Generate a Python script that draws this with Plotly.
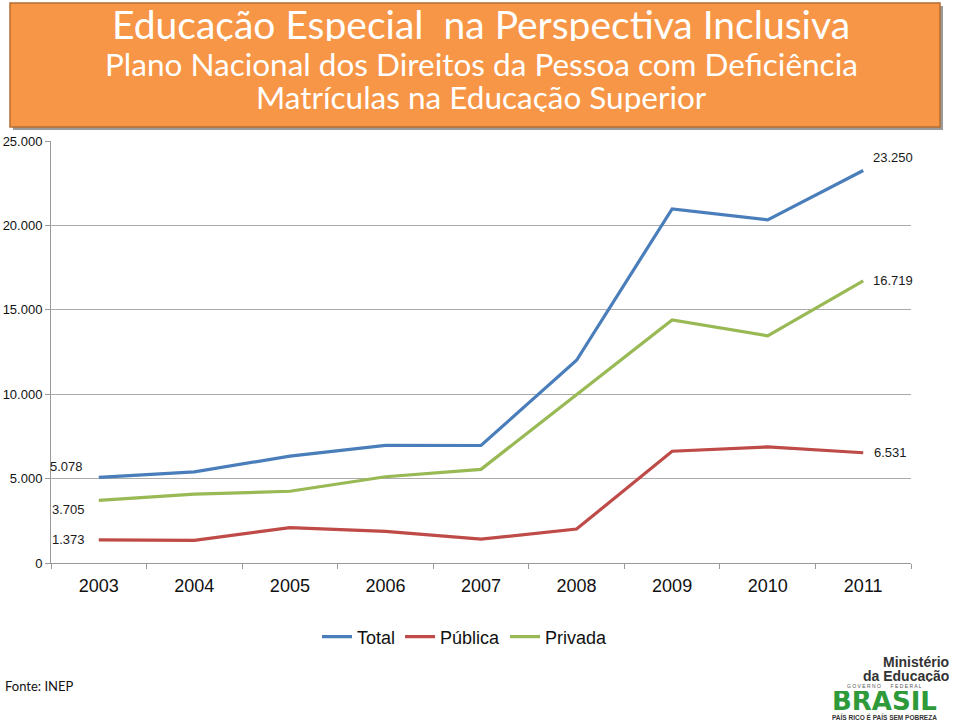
import plotly.graph_objects as go

years = ["2003", "2004", "2005", "2006", "2007", "2008", "2009", "2010", "2011"]
total = [5078, 5400, 6330, 6970, 6960, 12010, 20980, 20330, 23250]
publica = [1373, 1340, 2100, 1870, 1410, 2010, 6620, 6880, 6531]
privada = [3705, 4080, 4250, 5110, 5550, 10000, 14400, 13460, 16719]

series_names = ["Total", "Pública", "Privada"]
series_colors = ["#4A7EBB", "#BE4B48", "#98B954"]
y_ticks = [0, 5000, 10000, 15000, 20000, 25000]

W, H = 960, 723
L, R, T, B = 51, 911, 141, 563


def px(x):
    return (x - L) / (R - L)


def py(y):
    return (B - y) / (B - T)


def fmt(v):
    return f"{v:,}".replace(",", ".")


fig = go.Figure()
for name, vals, col in zip(series_names, [total, publica, privada], series_colors):
    fig.add_trace(go.Scatter(x=years, y=vals, mode="lines", name=name,
                             line=dict(color=col, width=3.2)))

lab_font = dict(family="Liberation Sans, Arial", size=13, color="#1a1a1a")
annotations = []
first_i, last_i = 0, len(years) - 1
first_labels = [(total[0], -32, 11), (privada[0], -30, -9), (publica[0], -30, 0)]
for v, dx, dy in first_labels:
    annotations.append(dict(xref="x", yref="y", x=first_i, y=v, text=fmt(v), showarrow=False,
                            xshift=dx, yshift=dy, font=lab_font))
last_labels = [(total[-1], 30, 13), (privada[-1], 30, 0), (publica[-1], 27, 0)]
for v, dx, dy in last_labels:
    annotations.append(dict(xref="x", yref="y", x=last_i, y=v, text=fmt(v), showarrow=False,
                            xshift=dx, yshift=dy, font=lab_font))

title_font = "Lato, Noto Sans, sans-serif"
annotations += [
    dict(xref="paper", yref="paper", x=px(481), y=py(24), text="Educação Especial  na Perspectiva Inclusiva",
         showarrow=False, font=dict(family=title_font, size=39, color="white"), xanchor="center",
         yanchor="middle", height=34),
    dict(xref="paper", yref="paper", x=px(481), y=py(64), text="Plano Nacional dos Direitos da Pessoa com Deficiência",
         showarrow=False, font=dict(family=title_font, size=31.5, color="white"), xanchor="center",
         yanchor="middle", height=30),
    dict(xref="paper", yref="paper", x=px(481), y=py(97), text="Matrículas na Educação Superior",
         showarrow=False, font=dict(family=title_font, size=31.5, color="white"), xanchor="center",
         yanchor="middle", height=30),
    dict(xref="paper", yref="paper", x=px(3), y=py(686), text="Fonte: INEP", showarrow=False,
         font=dict(family=title_font, size=13, color="#111111"), xanchor="left", yanchor="middle"),
    # logo
    dict(xref="paper", yref="paper", x=px(951), y=py(661), text="<b>Ministério</b>", showarrow=False,
         font=dict(family="Liberation Sans, Arial", size=14, color="#333333"), xanchor="right",
         yanchor="middle", height=13),
    dict(xref="paper", yref="paper", x=px(951), y=py(675), text="<b>da Educação</b>", showarrow=False,
         font=dict(family="Liberation Sans, Arial", size=14, color="#333333"), xanchor="right",
         yanchor="middle", height=13),
    dict(xref="paper", yref="paper", x=px(884), y=py(686), text="G O V E R N O       F E D E R A L", showarrow=False,
         font=dict(family="Liberation Sans, Arial", size=5, color="#555555"), xanchor="center",
         yanchor="middle", height=6),
    dict(xref="paper", yref="paper", x=px(884), y=py(701), text="<b>BRASIL</b>", showarrow=False,
         font=dict(family="DejaVu Sans, Arial", size=26, color="#2E9A3A"), xanchor="center",
         yanchor="middle", height=20),
    dict(xref="paper", yref="paper", x=px(884), y=py(716), text="<b>PAÍS RICO É PAÍS SEM POBREZA</b>", showarrow=False,
         font=dict(family="Liberation Sans, Arial", size=6.5, color="#333333"), xanchor="center",
         yanchor="middle", height=7),
]

shapes = [
    dict(type="rect", xref="paper", yref="paper", x0=px(13), x1=px(943), y0=py(6), y1=py(130),
         fillcolor="#9a9a9a", line=dict(width=0), layer="below"),
    dict(type="rect", xref="paper", yref="paper", x0=px(10), x1=px(940), y0=py(3), y1=py(127),
         fillcolor="#F79646", line=dict(color="#B66D31", width=1.5), layer="below"),
]

fig.update_layout(
    width=W, height=H,
    margin=dict(l=L, r=W - R, t=T, b=H - B, autoexpand=False),
    paper_bgcolor="white", plot_bgcolor="white",
    separators=",.",
    showlegend=True,
    legend=dict(orientation="h", x=px(465), y=py(637), xanchor="center", yanchor="middle",
                font=dict(family="Liberation Sans, Arial", size=18, color="#111111"),
                itemwidth=30, tracegroupgap=0, bgcolor="rgba(0,0,0,0)"),
    annotations=annotations,
    shapes=shapes,
    xaxis=dict(type="category", range=[-0.5, 8.5], showgrid=False, showline=True,
               linecolor="#9a9a9a", linewidth=1, ticks="outside", tickson="boundaries",
               ticklen=5, tickcolor="#9a9a9a", automargin=False,
               tickfont=dict(family="Liberation Sans, Arial", size=18, color="#111111"),
               ticklabelstandoff=6, fixedrange=True),
    yaxis=dict(range=[0, 25000], tickvals=y_ticks, tickformat=",d", showgrid=True,
               gridcolor="#ababab", gridwidth=1, showline=True, linecolor="#9a9a9a",
               ticks="outside", ticklen=5, tickcolor="#9a9a9a", zeroline=False, automargin=False,
               tickfont=dict(family="Liberation Sans, Arial", size=13, color="#111111"),
               fixedrange=True),
)

fig.write_html("out.html", config={"displayModeBar": False},
               post_script="document.body.style.margin='0';")
